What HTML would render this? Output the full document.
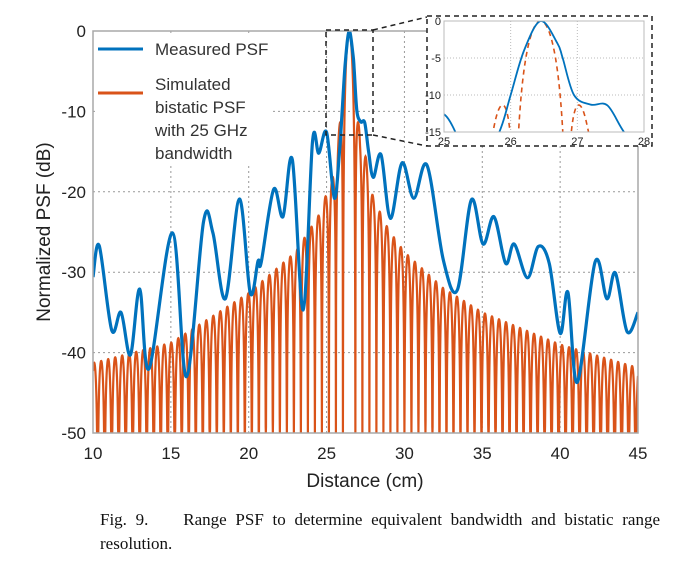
<!DOCTYPE html>
<html><head><meta charset="utf-8">
<style>
body{margin:0;background:#fff;width:676px;height:578px;overflow:hidden;font-family:"Liberation Sans",sans-serif;}
svg{position:absolute;left:0;top:0}
.cap{position:absolute;left:100px;top:508px;width:560px;font-family:"Liberation Serif",serif;font-size:17px;line-height:24px;color:#111;text-align:justify}
</style></head>
<body>
<svg id="chart" width="676" height="578"></svg>
<div class="cap">Fig. 9.&nbsp;&nbsp;&nbsp; Range PSF to determine equivalent bandwidth and bistatic range resolution.</div>
<script>
// Measured PSF (cm, dB)
const measX=[10,10.4,11.2,11.8,12.4,13.0,13.6,15.1,16.0,17.1,17.7,18.5,19.4,20.1,20.6,20.8,21.6,22.2,22.8,23.5,24.1,24.5,25.0,25.5,25.83,26.0,26.2,26.45,26.7,26.78,26.95,27.2,27.45,27.7,28.0,28.5,29.1,29.85,30.6,31.45,32.5,33.4,34.3,35.05,35.75,36.5,37.05,37.9,38.6,39.3,40.0,40.5,41.1,42.25,43.0,43.55,44.3,45];
const measY=[-30.6,-26.7,-37.2,-35,-40.3,-32.1,-42,-25.1,-43,-23.7,-25.1,-33.3,-20.9,-32.6,-28.6,-28.8,-19.7,-23.1,-16,-34.7,-13.7,-15.2,-12.6,-20.8,-15,-10,-4,0,-3,-5,-10,-11.3,-11.4,-15,-18.2,-15.4,-23.3,-16.4,-20.8,-16.7,-28.5,-32.2,-21,-26.5,-23.1,-28.9,-26.5,-30.7,-26.8,-28.9,-37.6,-32.5,-43.7,-28.7,-33.3,-30.1,-37.4,-35];
// Simulated sidelobe envelope (cm, dB)
const envX=[10,15,20,23,24.5,25.5,25.75,26.45,27.15,27.5,28,29,30,32.5,35,40,45];
const envY=[-41.3,-38.8,-32.6,-27.5,-22.9,-17.5,-13.3,0,-13.3,-15.5,-20.8,-24.8,-27.5,-32,-35,-39,-41.9];
const simPeak=26.45, simNull=0.4, simPeriod=0.45;
const xTicks=[10,15,20,25,30,35,40,45];
const yTicks=[0,-10,-20,-30,-40,-50];
const inXTicks=[25,26,27,28];
const inYTicks=[0,-5,-10,-15];

const NS='http://www.w3.org/2000/svg';
const svg=document.getElementById('chart');
function el(t,a,p){const e=document.createElementNS(NS,t);for(const k in a)e.setAttribute(k,a[k]);(p||svg).appendChild(e);return e;}
const L=93,R=638,T=31,B=433;
const X=v=>L+(v-10)/35*(R-L), Y=v=>T+(-v)/50*(B-T);
const iL=444,iR=644,iT=21,iB=132;
const IX=v=>iL+(v-25)/3*(iR-iL), IY=v=>iT+(-v)/15*(iB-iT);
function envAt(x){for(let i=0;i<envX.length-1;i++){if(x>=envX[i]&&x<=envX[i+1]){const t=(x-envX[i])/(envX[i+1]-envX[i]);return envY[i]+t*(envY[i+1]-envY[i]);}}return envY[envY.length-1];}
function simAt(x){const d=Math.abs(x-simPeak);
 if(d<simNull){const s=Math.cos(d/simNull*Math.PI/2);return Math.max(-50,20*Math.log10(Math.max(s,1e-4))*1.3);}
 const ph=(d-simNull)/simPeriod;const s=Math.abs(Math.sin(ph*Math.PI));
 return Math.max(-50,envAt(x)+20*Math.log10(Math.max(s,1e-4))*0.8);}
function smoothPath(xs,ys,fx,fy){let pts=xs.map((x,i)=>[fx(x),fy(ys[i])]);let d='M'+pts[0][0]+','+pts[0][1];
 for(let i=0;i<pts.length-1;i++){const p0=pts[i-1]||pts[i],p1=pts[i],p2=pts[i+1],p3=pts[i+2]||p2;
 d+=` C${p1[0]+(p2[0]-p0[0])/6},${p1[1]+(p2[1]-p0[1])/6} ${p2[0]-(p3[0]-p1[0])/6},${p2[1]-(p3[1]-p1[1])/6} ${p2[0]},${p2[1]}`;}return d;}
function simPath(x0,x1,fx,fy,step){let d='';for(let x=x0;x<=x1+1e-9;x+=step){d+=(d?'L':'M')+fx(x).toFixed(2)+','+fy(simAt(x)).toFixed(2);}return d;}

const g=el('g',{});
xTicks.slice(1,-1).forEach(v=>{const l=el('line',{x1:X(v),x2:X(v),y1:T,y2:B,stroke:'#999','stroke-dasharray':'2,3','stroke-width':1},g);});
yTicks.slice(1,-1).forEach(v=>{const l=el('line',{x1:L,x2:R,y1:Y(v),y2:Y(v),stroke:'#999','stroke-dasharray':'2,3','stroke-width':1},g);});
const defs=el('defs',{});
const cp=el('clipPath',{id:'cm'},defs);el('rect',{x:L,y:T,width:R-L,height:B-T},cp);
const cp2=el('clipPath',{id:'ci'},defs);el('rect',{x:iL,y:iT,width:iR-iL,height:iB-iT},cp2);
const sim=el('path',{d:simPath(10,45,X,Y,0.01),fill:'none',stroke:'#d95319','stroke-width':2.2,'clip-path':'url(#cm)'});

const meas=el('path',{d:smoothPath(measX,measY,X,Y),fill:'none',stroke:'#0072bd','stroke-width':3.2,'clip-path':'url(#cm)'});

const ax=el('rect',{x:L,y:T,width:R-L,height:B-T,fill:'none',stroke:'#a8a8a8','stroke-width':1.5});

xTicks.forEach(v=>{const t=el('text',{x:X(v),y:459,'text-anchor':'middle','font-size':17,fill:'#222'});t.textContent=v;});
yTicks.forEach(v=>{const t=el('text',{x:L-7,y:Y(v)+6,'text-anchor':'end','font-size':17,fill:'#222'});t.textContent=v;});
const xt=el('text',{x:365,y:487,'text-anchor':'middle','font-size':19,fill:'#222'});xt.textContent='Distance (cm)';
const yt=el('text',{x:0,y:0,'text-anchor':'middle','font-size':19,fill:'#222',transform:'translate(50,232) rotate(-90)'});yt.textContent='Normalized PSF (dB)';
const lg=el('g',{});
el('rect',{x:95,y:33,width:175,height:130,fill:'#fff'},lg);
const l1=el('line',{x1:98,x2:143,y1:49,y2:49,stroke:'#0072bd','stroke-width':3},lg);
const l2=el('line',{x1:98,x2:143,y1:93,y2:93,stroke:'#d95319','stroke-width':3},lg);
const lt1=el('text',{x:155,y:55,'font-size':17,fill:'#333'},lg);lt1.textContent='Measured PSF';
['Simulated','bistatic PSF','with 25 GHz','bandwidth'].forEach((s,i)=>{const t=el('text',{x:155,y:90+i*23,'font-size':17,fill:'#333'},lg);t.textContent=s;});
const zr=el('rect',{x:326,y:30,width:47,height:105,fill:'none',stroke:'#222','stroke-width':1.5,'stroke-dasharray':'5,4'});
const c1=el('line',{x1:373,y1:30,x2:427,y2:17,stroke:'#222','stroke-width':1.5,'stroke-dasharray':'5,4'});
const c2=el('line',{x1:373,y1:135,x2:427,y2:146,stroke:'#222','stroke-width':1.5,'stroke-dasharray':'5,4'});
const ins=el('g',{});
el('rect',{x:427,y:16,width:225,height:130,fill:'#fff',stroke:'#222','stroke-width':1.5,'stroke-dasharray':'5,4'},ins);
inXTicks.slice(1,-1).forEach(v=>{const l=el('line',{x1:IX(v),x2:IX(v),y1:iT,y2:iB,stroke:'#bbb','stroke-dasharray':'1,2'},ins);});
inYTicks.slice(1,-1).forEach(v=>{const l=el('line',{x1:iL,x2:iR,y1:IY(v),y2:IY(v),stroke:'#bbb','stroke-dasharray':'1,2'},ins);});
const isim=el('path',{d:simPath(25,28,IX,IY,0.005),fill:'none',stroke:'#d95319','stroke-width':1.6,'stroke-dasharray':'5,4','clip-path':'url(#ci)'},ins);
const imeas=el('path',{d:smoothPath(measX,measY,IX,IY),fill:'none',stroke:'#0072bd','stroke-width':1.8,'clip-path':'url(#ci)'},ins);
el('rect',{x:iL,y:iT,width:iR-iL,height:iB-iT,fill:'none',stroke:'#bbb','stroke-width':1},ins);
inXTicks.forEach(v=>{const t=el('text',{x:IX(v),y:145,'text-anchor':'middle','font-size':11,fill:'#222'},ins);t.textContent=v;});
inYTicks.forEach(v=>{const t=el('text',{x:iL-3,y:IY(v)+4,'text-anchor':'end','font-size':11,fill:'#222'},ins);t.textContent=v;});
</script>
</body></html>
